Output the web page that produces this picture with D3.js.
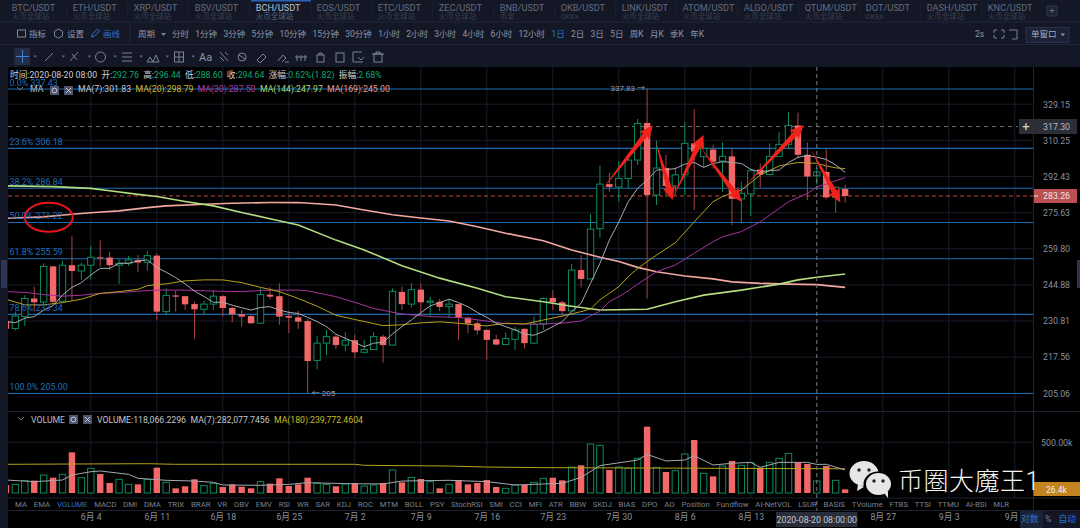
<!DOCTYPE html>
<html><head><meta charset="utf-8">
<script src="https://cdn.jsdelivr.net/npm/d3@7/dist/d3.min.js"></script>
<style>
html,body{margin:0;padding:0;background:#000;overflow:hidden}
text{font-family:Roboto,"Noto Sans CJK SC",sans-serif}
</style></head><body><svg id="c" width="1080" height="528"></svg>
<script>
// ---- data ----
const opens=[230.8,228,232.5,239.5,238.1,252.4,238.4,252.9,250.5,252.9,256.2,256.1,252.9,253.7,255.1,254.1,256.9,234.4,240.7,240.4,237.3,235.3,237.3,240.4,235.8,233.4,232.7,230,241,240.4,232.7,232.2,230.8,216.4,222.6,225,221.9,223.7,219.3,220.3,225,221.9,242.1,237.3,243,238,238.2,236.3,237.3,232.1,230,227.5,224,222.1,224,227.9,222.6,229.7,239.7,238,234.7,250.9,247.3,268.5,288.8,287.4,291.5,300.4,319.2,283.7,296.5,287.9,293.2,308.7,302.1,305.6,299.9,302.2,281.9,284.2,295.8,293.4,302.2,308.2,317.9,303,292.76,294.6,282.6,286.5];
const closes=[227.9,232.7,239.5,238,252.4,238.2,252.9,250.5,252.9,256.2,255.8,252.9,253.7,255.1,254,256.9,234.4,240.7,240.2,237.2,235.3,237.3,240.4,235.8,233.4,232.5,230,241,240.2,232.5,232.1,230.6,216.2,222.6,225,221.9,223.7,219.3,220.3,225,221.9,242.3,237.3,243,238,238.5,236.2,237.3,232.1,229.9,227.3,223.8,222.1,224.3,227.5,222.6,229.7,239.5,238,234.6,250.9,247.3,268.3,288.8,287.4,291.5,300.4,319,283.7,296.5,287.9,293.2,308.7,304.6,306.2,299.6,302.2,281.9,284.5,295.2,293.4,302.2,308.2,317.9,303,292.4,294.64,282.6,287.3,283.26];
const highs=[231.8,234.4,240.8,244.2,253.7,252.6,254.7,265.2,254,261,263.4,258.4,255.4,256.8,257.1,258.9,257.9,243.5,242.5,240.5,238.2,238.6,242.8,240.8,236.3,235,233.1,243.5,244,245.5,234.7,234.7,231.6,225.3,227.5,225.7,226.6,225.7,223.8,226.6,225.7,243.5,244.2,245.6,245.5,240.2,239.3,239.2,237.5,232.3,230.6,227.7,225.7,226.5,228.7,228,232.5,239.9,242.8,238.6,253.4,257,274.9,297.7,294.2,299.9,303.4,321.3,337.83,310,302.9,296.8,319.7,326.5,309.6,308,309.2,305.9,289.9,296.3,298.7,308.7,314.6,325.1,324.6,309.2,296.44,305.9,287.6,288.4];
const lows=[226.9,227.3,229,234.4,237.3,237.3,238,238.6,246.9,247.2,252.3,250.9,245.3,252.6,250,250.6,231.2,233,234.4,235,224.3,233.1,235,232.5,230.3,228.7,229.7,229.7,239.2,229.4,226.3,227.9,205,213.3,218.3,220.4,219.7,217.2,218.9,220.1,215.6,221.8,235,236,233.1,232.5,234.6,232.2,223.8,226.3,225.7,216.6,221.8,222,220.1,220.6,222.4,227.5,235,232.5,234.4,243.9,247.2,264.5,285.2,280.6,286.8,298,239.5,279.1,283,283.7,283.7,276.8,297,296.3,285.2,270.1,270.8,274.1,287.1,293.1,302,306.2,301.3,281.4,288.6,281.7,275.6,280.2];
const volumes=[79,85,122,122,177,151,184,401,151,243,187,99,135,85,85,135,250,105,46,66,135,72,95,59,85,62,46,112,92,145,69,85,151,95,85,66,89,99,69,79,99,227,105,154,138,112,46,85,128,85,99,128,59,46,79,79,105,145,151,125,256,273,483,470,227,256,243,342,654,253,207,220,385,523,194,164,266,316,273,299,250,302,342,391,302,286,118.07,266,125,36];
const ma7=[230.6,230.2,231.9,232.5,235,236.7,240.8,243.9,245.8,248.9,251.6,251.6,253.7,253.7,254.7,255.1,252,250,247.8,245.3,242.4,240.3,238,238,236.9,235.9,235,236,236.3,235,234.1,233.7,232.2,230.6,228.7,225.9,224.4,222.9,221.3,222.6,222.9,226,228.7,231.2,234,236.6,237.9,239.2,237.9,236.3,234.1,232.2,230,228.7,227.5,225.9,225.5,226.9,228.7,230.6,234.4,237.6,245.5,253.7,263.5,271.5,280.6,286.8,290.7,295.5,295.8,296.2,298.4,299.2,296.8,298.7,299.6,299.2,298.7,295.8,294.7,295.2,295.5,299.2,301.7,302.7,301.83,300.7,298,294.4];
const ma20Idx=[0,2,4,6,8,10,12,14,15,17,19,21,23,25,27,29,31,33,35,37,40,42,44,46,48,50,51,53,55,57,59,61,62,63,64,65,66,67,68,69,71,73,75,76,78,80,82,84,86,87,88,89];
const ma20=[239.2,237,237,237.9,239.2,241.5,242.2,243.1,244.6,245.3,246.5,246.9,246.9,245.8,243.9,242.2,239.5,236.5,233,231.4,229.1,229.4,230.1,230.5,230,229.2,229,230,229.7,231.2,232.7,234.4,235.4,239,241.5,244.2,248.2,251.6,254.4,257.1,262.4,271.5,280.6,283,286,293.1,297.5,299.2,298.79,297.5,296.6,296.2];
const ma30Idx=[0,2,4,6,8,10,12,14,16,19,22,25,28,31,32,35,37,39,42,45,48,51,53,56,59,61,63,64,65,66,67,69,71,73,75,76,78,80,82,83,85,86,87,89];
const ma30=[242.2,241.9,241,240.4,240.8,241.5,241.8,242.4,242.8,242.8,242.4,242.2,242.8,242.8,242.5,240.2,238,235.6,233.5,232.5,232.2,230.8,229.8,229.6,230,230.8,234.6,238.3,240.2,242.5,245.2,250.2,253,257.9,262.8,264.9,267.2,271.5,277.5,280.6,284.4,287.5,288.8,291.9];
const ma144Idx=[0,5,9,11,14,16,19,22,25,28,31,35,38,42,46,50,53,57,60,63,68,71,74,78,82,84,86,89];
const ma144=[288,287.6,286.8,285.7,284,283,280.7,278.7,275.7,272.9,270.1,263.5,259.3,252.7,247.6,243.5,240.2,238.2,236.5,235,235.3,238.2,240.8,242.8,245.2,246.9,247.97,249.3];
const ma169Idx=[0,4,7,9,12,15,17,21,24,28,31,35,38,41,44,47,50,53,57,60,63,65,67,69,72,75,77,80,83,86,89];
const ma169=[273.1,273.7,274.9,275.6,276.4,277.9,278.7,279.4,279.9,280.2,280.2,279.1,276.8,274.7,273.2,271.9,269.3,266.5,263.2,259.3,256.2,254.4,252,250.2,248.5,247.3,246.1,245.5,245.2,245,243.9];
const volMa7Idx=[0,3,6,7,9,10,13,14,17,20,22,23,27,30,32,36,40,42,47,51,54,57,59,61,63,67,68,70,72,73,75,77,79,80,82,85,86,87,89];
const volMa7=[128,112,128,177,210,217,184,145,125,118,105,79,76,85,102,92,89,118,125,112,79,89,95,154,270,325,381,316,325,368,276,293,302,253,302,302,282.08,283,227];
const volMa180Idx=[0,15,18,37,38,47,51,57,86,89];
const volMa180=[283,289,283,283,273,266,256,250,239.77,239];
const fibPrices=[337.43,306.18,286.84,271.22,255.59,233.34,205];
const fibLabels=["0.0% 337.43","23.6% 306.18","38.2% 286.84","50.0% 271.22","61.8% 255.59","78.6% 233.34","100.0% 205.00"];
const priceTicks=[329.15,310.25,292.43,275.63,259.80,244.88,230.81,217.56,205.06];
const dateTickIdx=[9,16,23,30,37,44,51,58,65,72,79,93,100,107];
const dateTickLabels=["6月 4","6月 11","6月 18","6月 25","7月 2","7月 9","7月 16","7月 23","7月 30","8月 6","8月 13","8月 27","9月 3","9月 1"];
const arrowsData=[[63.2,286,68.6,318],[68.9,310,70.7,281.4],[70.7,282.2,74,313],[73.6,307,78,280.6],[78.4,288,84.6,318],[85.4,305.4,88.5,280.2]];
const pairs=["BTC/USDT","ETH/USDT","XRP/USDT","BSV/USDT","BCH/USDT","EOS/USDT","ETC/USDT","ZEC/USDT","BNB/USDT","OKB/USDT","LINK/USDT","ATOM/USDT","ALGO/USDT","QTUM/USDT","DOT/USDT","DASH/USDT","KNC/USDT"];
const venues=["火币全球站","火币全球站","火币全球站","火币全球站","火币全球站","火币全球站","火币全球站","火币全球站","币安","OKEx","火币全球站","火币全球站","火币全球站","火币全球站","OKEx","火币全球站","火币全球站"];
const periods=["分时","1分钟","3分钟","5分钟","10分钟","15分钟","30分钟","1小时","2小时","3小时","4小时","6小时","12小时","1日","2日","3日","5日","周K","月K","季K","年K"];
const indicators=["MA","EMA","VOLUME","MACD","DMI","DMA","TRIX","BRAR","VR","OBV","EMV","RSI","WR","SAR","KDJ","ROC","MTM","BOLL","PSY","StochRSI","SMI","CCI","MFI","ATR","BBW","SKDJ","BIAS","DPO","AO","Position","Fundflow","AI-NetVOL","LSUR","BASIS","TVolume","FTBS","TTSI","TTMU","AI-BSI","MLR"];

// ---- layout ----
const L=8,R=1033.5,PT=67,PB=405,VT=411.5,VB=498,AXB=510.5;
const svg=d3.select("#c");
const panel="#141826",grid="#191c2a",up="#0d8a5f",down="#f26868",wick="#a94446",dim="#767c8e",fib="#1c6cb2";
svg.append("defs").append("clipPath").attr("id","pl").append("rect").attr("x",L).attr("y",PT).attr("width",R-L).attr("height",AXB-PT);

const x=d3.scaleLinear().domain([9,86]).range([90.8,816.8]);
const y=d3.scaleLog().domain([205,337.83]).range([393.5,88.3]);
const yV=d3.scaleLinear().domain([0,500]).range([493,442.3]);

// chrome backgrounds
svg.append("rect").attr("width",1080).attr("height",528).attr("fill","#000");
svg.append("rect").attr("width",1080).attr("height",67).attr("fill",panel);
svg.append("rect").attr("width",L).attr("height",528).attr("fill",panel);
svg.append("rect").attr("x",1).attr("y",260).attr("width",6).attr("height",28).attr("fill","#2c3654");
svg.append("rect").attr("x",1077).attr("y",260).attr("width",3).attr("height",28).attr("fill","#2c3654");
[22,44.5].forEach(v=>svg.append("line").attr("x1",0).attr("x2",1080).attr("y1",v).attr("y2",v).attr("stroke","#20243a"));

// grid
const gv=svg.append("g").attr("stroke",grid);
dateTickIdx.filter(d=>x(d)<R).forEach(d=>gv.append("line").attr("x1",x(d)).attr("x2",x(d)).attr("y1",PT).attr("y2",VB));
const gh=svg.append("g").attr("stroke",grid);
priceTicks.forEach(p=>gh.append("line").attr("x1",L).attr("x2",R).attr("y1",y(p)).attr("y2",y(p)));
gh.append("line").attr("x1",L).attr("x2",R).attr("y1",yV(500)).attr("y2",yV(500));
[PB+6.5,VB,AXB].forEach(v=>svg.append("line").attr("x1",L).attr("x2",1080).attr("y1",v).attr("y2",v).attr("stroke","#1c2030"));
svg.append("line").attr("x1",R).attr("x2",R).attr("y1",PT).attr("y2",AXB).attr("stroke","#202434");

// fib lines
const plot=svg.append("g").attr("clip-path","url(#pl)");
plot.selectAll(".f").data(fibPrices).join("line").attr("x1",L).attr("x2",R).attr("y1",d=>y(d)).attr("y2",d=>y(d)).attr("stroke",fib).attr("stroke-width",1.2);

// dashed guides
plot.append("line").attr("x1",L).attr("x2",1018).attr("y1",y(317.3)).attr("y2",y(317.3)).attr("stroke","#6e7078").attr("stroke-dasharray","4 4");
plot.append("line").attr("x1",L).attr("x2",R).attr("y1",y(283.26)).attr("y2",y(283.26)).attr("stroke","#c84646").attr("stroke-dasharray","4 3");
svg.append("line").attr("x1",x(86)).attr("x2",x(86)).attr("y1",PT).attr("y2",AXB).attr("stroke","#7a7d86").attr("stroke-dasharray","4 3");

// candles
const idx=d3.range(opens.length), bw=6.4;
plot.selectAll(".w").data(idx).join("line").attr("x1",i=>x(i)).attr("x2",i=>x(i)).attr("y1",i=>y(highs[i])).attr("y2",i=>y(lows[i])).attr("stroke",i=>closes[i]>=opens[i]?up:wick).attr("stroke-width",1);
plot.selectAll(".b").data(idx).join("rect").attr("x",i=>x(i)-bw/2).attr("width",bw)
 .attr("y",i=>y(Math.max(opens[i],closes[i]))).attr("height",i=>Math.max(1,Math.abs(y(opens[i])-y(closes[i]))))
 .attr("fill",i=>closes[i]>=opens[i]?"#000":down).attr("stroke",i=>closes[i]>=opens[i]?up:"none").attr("stroke-width",1);

// MA lines
const ln=(ids,vals,sc)=>d3.line().x((d,k)=>x(ids[k])).y(d=>sc(d)).curve(d3.curveLinear)(vals);
const drawLine=(ids,vals,col,w,sc)=>plot.append("path").attr("d",ln(ids,vals,sc)).attr("fill","none").attr("stroke",col).attr("stroke-width",w);
drawLine(ma169Idx,ma169,"#f3a79f",1.6,y);
drawLine(ma144Idx,ma144,"#b2dd80",1.6,y);
drawLine(ma30Idx,ma30,"#a5349c",1,y);
drawLine(ma20Idx,ma20,"#b5a31e",1,y);
drawLine(idx,ma7,"#a8aab4",1,y);

// volume bars
plot.selectAll(".v").data(idx).join("rect").attr("x",i=>x(i)-bw/2).attr("width",bw)
 .attr("y",i=>yV(volumes[i])).attr("height",i=>yV(0)-yV(volumes[i]))
 .attr("fill",i=>closes[i]>=opens[i]?"#000":down).attr("stroke",i=>closes[i]>=opens[i]?up:"none");
drawLine(volMa180Idx,volMa180,"#b5a31e",1,yV);
drawLine(volMa7Idx,volMa7,"#a5a8b2",1,yV);

// red hand-drawn arrows and circle
const arrow=([i0,p0,i1,p1])=>{
 const a=[x(i0),y(p0)],b=[x(i1),y(p1)],dx=b[0]-a[0],dy=b[1]-a[1],l=Math.hypot(dx,dy),u=[dx/l,dy/l],n=[-u[1],u[0]];
 const at=(t,s)=>[b[0]-u[0]*t+n[0]*s,b[1]-u[1]*t+n[1]*s];
 return "M"+[a,at(12,2.8),at(14,6.5),b,at(14,-6.5),at(12,-2.8)].map(p=>p.join(",")).join("L")+"Z";
};
svg.append("g").selectAll("path").data(arrowsData).join("path").attr("d",arrow).attr("fill","#f0221c");
svg.append("ellipse").attr("cx",x(4.54)).attr("cy",y(273.5)).attr("rx",24).attr("ry",14.5).attr("fill","none").attr("stroke","#e8141c").attr("stroke-width",2);

// fib labels
svg.append("g").selectAll("text").data(fibPrices).join("text").attr("x",9.5).attr("y",d=>y(d)-3.5)
 .attr("font-size",8.9).attr("fill","#1d6fbf").text((d,i)=>fibLabels[i]);

// price axis
const ax=d3.axisRight(y).tickValues(priceTicks).tickFormat(d3.format(".2f")).tickSize(0).tickPadding(0);
const axg=svg.append("g").attr("transform",`translate(${1043},0)`).call(ax);
axg.select(".domain").remove();
axg.selectAll("text").attr("fill","#8b8f9c").attr("font-size",8.8);

// time axis
const tx=d3.axisBottom(x).tickValues(dateTickIdx).tickFormat((d,i)=>dateTickLabels[i]).tickSize(0).tickPadding(0);
const txg=svg.append("g").attr("transform",`translate(0,${514})`).call(tx);
txg.select(".domain").remove();
txg.selectAll("text").attr("fill","#8b8f9c").attr("font-size",8.8);

// price tags
svg.append("rect").attr("x",1019).attr("y",119).attr("width",58).attr("height",15).attr("fill","#2b2e37");
svg.append("text").attr("x",1026).attr("y",130.5).attr("font-size",13).attr("fill","#d5d6da").attr("text-anchor","middle").text("+");
svg.append("text").attr("x",1043).attr("y",129.8).attr("font-size",8.8).attr("fill","#b8bac2").text("317.30");
svg.append("rect").attr("x",1034).attr("y",189).attr("width",43).attr("height",14).attr("fill","#bb5050");
svg.append("line").attr("x1",1034).attr("x2",1038).attr("y1",196).attr("y2",196).attr("stroke","#eee");
svg.append("text").attr("x",1043).attr("y",199.4).attr("font-size",8.8).attr("fill","#e8e8e8").text("283.26");
svg.append("text").attr("x",1041).attr("y",445.5).attr("font-size",8.8).attr("fill","#8b8f9c").text("500.00k");
svg.append("rect").attr("x",1033.5).attr("y",482).attr("width",46.5).attr("height",14).attr("fill","#c3831f");
svg.append("text").attr("x",1046).attr("y",492.5).attr("font-size",8.5).attr("fill","#eee").text("26.4k");
// extreme labels
svg.append("text").attr("x",x(68)-2).attr("y",y(337.83)+2.5).attr("font-size",8).attr("text-anchor","end").attr("fill","#9a9da8").text("337.83 →");
svg.append("text").attr("x",x(32)+4).attr("y",y(205)+2.5).attr("font-size",8).attr("fill","#9a9da8").text("← 205");

// tabs
const tab=svg.append("g");
pairs.forEach((p,i)=>{
 const px=11.7+i*61;
 tab.append("text").attr("x",px).attr("y",10.5).attr("font-size",9.2).attr("fill",i==4?"#b9c0d4":"#636a7d").text(p);
 tab.append("text").attr("x",px).attr("y",18.8).attr("font-size",7.5).attr("fill",i==4?"#5d6478":"#3a4050").text(venues[i]);
 if(i) tab.append("line").attr("x1",px-6).attr("x2",px-6).attr("y1",3).attr("y2",19).attr("stroke","#1d2132");
});
tab.append("rect").attr("x",251).attr("y",0).attr("width",60).attr("height",1.5).attr("fill","#2a62b8");
tab.append("rect").attr("x",1047).attr("y",6).attr("width",10).attr("height",10).attr("fill","#1f2438").attr("stroke","#2f3650");
tab.append("text").attr("x",1052).attr("y",14).attr("font-size",9).attr("text-anchor","middle").attr("fill","#69708a").text("+");

// toolbar row
const tool=svg.append("g").attr("font-size",8.5);
const lab=(xx,yy,t,c)=>tool.append("text").attr("x",xx).attr("y",yy).attr("fill",c||"#8f95a6").text(t);
tool.append("rect").attr("x",17.5).attr("y",30).attr("width",8).attr("height",7).attr("fill","none").attr("stroke","#808697");
lab(29,37,"指标");
tool.append("path").attr("d","M58.5,29l4,2.3v4.6l-4,2.3l-4,-2.3v-4.6z").attr("fill","none").attr("stroke","#808697");
lab(67,37,"设置");
tool.append("path").attr("d","M91.5,37l1,-3l5,-5l2,2l-5,5z").attr("fill","none").attr("stroke","#2f73cc");
lab(103,37,"画线","#2f73cc");
lab(138,37,"周期");
tool.append("path").attr("d","M161,33h5l-2.5,3z").attr("fill","#808697");
tool.append("line").attr("x1",130).attr("x2",130).attr("y1",23).attr("y2",44).attr("stroke","#20243a");
let pcur=172;
periods.forEach((p,i)=>{
 const t=lab(pcur,37,p,p==="1日"?"#2f73cc":"#8f95a6");
 pcur+=t.node().getComputedTextLength()+6.3;
});
lab(975,37,"2s");
tool.append("path").attr("d","M994,30h3M994,30v3M1004,30h-3M1004,30v3M994,38h3M994,38v-3M1004,38h-3M1004,38v-3").attr("stroke","#7a8092").attr("fill","none");
tool.append("path").attr("d","M1009,30h8v9h-5").attr("stroke","#7a8092").attr("fill","none");
tool.append("rect").attr("x",1026).attr("y",27.5).attr("width",43).attr("height",15).attr("fill","#1c2136").attr("stroke","#2a3150");
lab(1031,37,"单窗口","#a6abba");
tool.append("path").attr("d","M1060.5,33.5h4.5l-2.2,2.8z").attr("fill","#8f95a6");

// drawing toolbar row (simple glyphs)
const dt=svg.append("g").attr("fill","none").attr("stroke","#7c8294");
dt.append("rect").attr("x",14.5).attr("y",48).attr("width",15.5).attr("height",17).attr("fill","#242c46").attr("stroke","none");
dt.append("path").attr("d","M22.5,50v13M16,56.5h13").attr("stroke","#3a82dc");
dt.append("path").attr("d","M45,61l8,-8");
dt.append("path").attr("d","M70,61l8,-9M72,54l5,6");
dt.append("circle").attr("cx",100.5).attr("cy",57).attr("r",5);
dt.append("path").attr("d","M122,53h10M122,57h10M122,61h10");
dt.append("path").attr("d","M147,62l3,-5l3,5l3,-7l3,7h-12");
dt.append("rect").attr("x",174.5).attr("y",52).attr("width",9).attr("height",10);
dt.append("path").attr("d","M179,52v10M174,57h10");
svg.append("text").attr("x",199).attr("y",61).attr("font-size",11).attr("fill","#8f95a6").text("Aa");
dt.append("path").attr("d","M220,52l8,9M220,57l4,4M225,52l3,3");
dt.append("circle").attr("cx",242).attr("cy",57).attr("r",4);
dt.append("path").attr("d","M239,55l6,4");
dt.append("path").attr("d","M257,60l6,-6l3,3l-6,6z");
dt.append("path").attr("d","M278,61l5,-6l3,3l-4,4M285,62h4");
dt.append("path").attr("d","M297,55v6M301,55v6M305,55v6M295,57h12");
dt.append("rect").attr("x",317).attr("y",55).attr("width",7).attr("height",7);
dt.append("path").attr("d","M319,55v-2h3v2");
dt.append("rect").attr("x",336).attr("y",53).attr("width",8).attr("height",9);
dt.append("path").attr("d","M353,52v10h10M353,52h9M358,57l3,3l3,-3");
dt.append("rect").attr("x",374).attr("y",54).attr("width",8).attr("height",8);
dt.append("path").attr("d","M372,54h12M376,54v-2h4v2");
[32,60,86,112,138,164,190].forEach(v=>svg.append("path").attr("d",`M${v+1.5},55.5h3.5l-1.75,2.2z`).attr("fill","#646a7c"));

// info line
const info=svg.append("text").attr("x",10).attr("y",78).attr("font-size",8.7).attr("fill","#d0d2d8").style("white-space","pre");
[["时间:2020-08-20 08:00  开:",0],["292.76",1],["  高:",0],["296.44",1],["  低:",0],["288.60",1],["  收:",0],["294.64",1],["  涨幅:",0],["0.62%(1.82)",1],["  振幅:",0],["2.68%",1]]
 .forEach(([t,g])=>info.append("tspan").attr("fill",g?"#10a878":"#cfd1d7").text(t));

// MA legend
const icon=(g,xx,yy)=>{g.append("rect").attr("x",xx).attr("y",yy).attr("width",9).attr("height",9).attr("fill","#4c5470");
 g.append("circle").attr("cx",xx+4.5).attr("cy",yy+4.5).attr("r",2.4).attr("fill","none").attr("stroke","#c9ccd6");
 g.append("rect").attr("x",xx+14).attr("y",yy).attr("width",9).attr("height",9).attr("fill","#4c5470");
 g.append("path").attr("d",`M${xx+16},${yy+2}l5,5M${xx+21},${yy+2}l-5,5`).attr("stroke","#c9ccd6");};
const leg=svg.append("g").attr("font-size",8.7);
leg.append("path").attr("d","M17,87l3,3l3,-3").attr("fill","none").attr("stroke","#70768a");
leg.append("text").attr("x",30).attr("y",91.5).attr("fill","#b8bac2").text("MA");
icon(leg,50,86);
[["MA(7):301.83","#c4c6cc",78],["MA(20):298.79","#cdbb22",135.5],["MA(30):287.50","#b03aa6",197.5],["MA(144):247.97","#a8d878",260],["MA(169):245.00","#e89a92",327]]
 .forEach(([t,c,xx])=>leg.append("text").attr("x",xx).attr("y",91.5).attr("fill",c).text(t));

// volume legend
const vl=svg.append("g").attr("font-size",8.7);
vl.append("path").attr("d","M18,417l3,3l3,-3").attr("fill","none").attr("stroke","#70768a");
vl.append("text").attr("x",31).attr("y",422.5).attr("fill","#b8bac2").text("VOLUME");
icon(vl,69,415);
vl.append("text").attr("x",97).attr("y",422.5).attr("fill","#c4c6cc").text("VOLUME:118,066.2296");
vl.append("text").attr("x",190.5).attr("y",422.5).attr("fill","#c4c6cc").text("MA(7):282,077.7456");
vl.append("text").attr("x",274).attr("y",422.5).attr("fill","#cdbb22").text("MA(180):239,772.4604");

// indicator tabs
const it=svg.append("g").attr("font-size",7.8);
let cur=15;
indicators.forEach(n=>{const t=it.append("text").attr("x",cur).attr("y",506.5).attr("fill",n==="VOLUME"?"#2f73cc":"#7a8092").text(n);cur+=t.node().getComputedTextLength()+6.75;});

// hover date & scale buttons
svg.append("rect").attr("x",776).attr("y",512).attr("width",81.5).attr("height",15).attr("fill","#2a2e3a");
svg.append("text").attr("x",816.8).attr("y",522.8).attr("text-anchor","middle").attr("font-size",8.8).attr("fill","#c4c6cc").text("2020-08-20 08:00:00");
svg.append("rect").attr("x",1020).attr("y",511).attr("width",60).attr("height",17).attr("fill","#121626");
svg.append("rect").attr("x",1020).attr("y",511).attr("width",23).attr("height",17).attr("fill","#1a2238");
svg.append("text").attr("x",1021).attr("y",521.5).attr("font-size",8.8).attr("fill","#2f73cc").text("对数");
svg.append("text").attr("x",1045).attr("y",521.5).attr("font-size",8.8).attr("fill","#7a8092").text("%");
svg.append("text").attr("x",1058.5).attr("y",521.5).attr("font-size",8.8).attr("fill","#2f73cc").text("自动");

// watermark
const wm=svg.append("g");
wm.append("path").attr("d","M858,484l-1,7l7,-4z").attr("fill","#e6e6e6");
wm.append("ellipse").attr("cx",864).attr("cy",473.5).attr("rx",14.5).attr("ry",12.5).attr("fill","#e6e6e6");
wm.append("ellipse").attr("cx",878).attr("cy",484).attr("rx",14.5).attr("ry",12.5).attr("fill","#000");
wm.append("ellipse").attr("cx",878.5).attr("cy",484).attr("rx",12.5).attr("ry",11).attr("fill","#e6e6e6");
wm.append("path").attr("d","M884,493l4,5l0,-7z").attr("fill","#e6e6e6");
[[859,470],[869,470],[874,481],[883,481]].forEach(([a,b])=>wm.append("circle").attr("cx",a).attr("cy",b).attr("r",1.7).attr("fill","#222"));
wm.append("text").attr("x",898).attr("y",490).attr("font-size",25).attr("font-weight",300).attr("fill","#f4f4f4").attr("letter-spacing",0.5).text("币圈大魔王1");
</script></body></html>
